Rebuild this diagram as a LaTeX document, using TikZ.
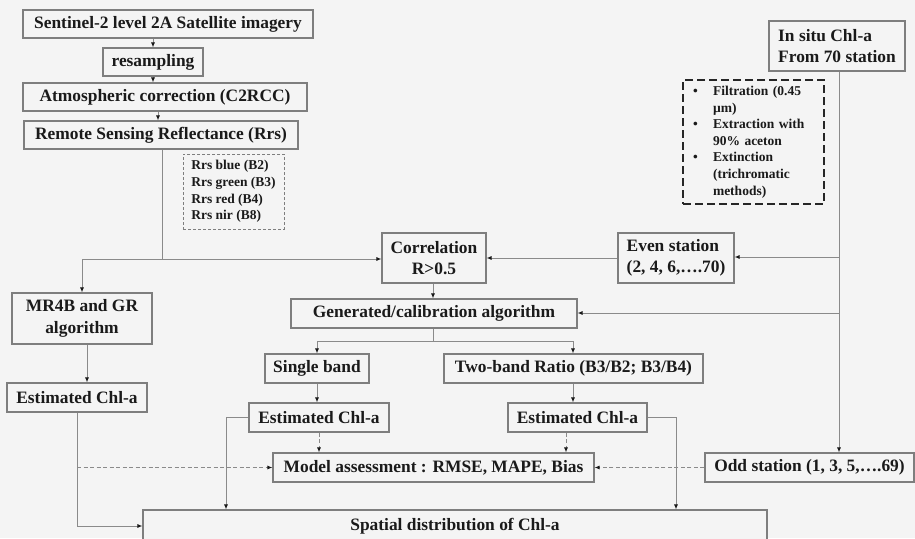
\documentclass[tikz,border=0pt]{standalone}
\usepackage{fontspec}
\setmainfont{Liberation Serif}
\usetikzlibrary{arrows.meta}
\definecolor{bg}{HTML}{F4F4F4}
\definecolor{bx}{HTML}{7E7E7E}
\definecolor{tx}{HTML}{1A1A1A}
\definecolor{ln}{HTML}{8A8A8A}
\begin{document}
\begin{tikzpicture}[x=1pt,y=-1pt,
  box/.style={draw=bx,line width=1.1pt,fill=bg,text=tx,
    font=\bfseries\fontsize{17.4}{21.5}\selectfont,inner sep=0pt,align=center},
  lbox/.style={box,align=left},
  small/.style={font=\bfseries\fontsize{13.5}{16.6}\selectfont},
  conn/.style={draw=ln,line width=0.9pt},
  arr/.style={conn,-{Latex[length=5pt,width=4pt,color=tx]}},
  darr/.style={arr,dash pattern=on 4pt off 2.5pt},
]
\useasboundingbox (0,0) rectangle (915,538);
\fill[bg] (0,0) rectangle (915,538);

% left column
\node[box,minimum width=290pt,minimum height=28pt] (sent) at (168,24) {Sentinel-2 level 2A Satellite imagery};
\node[box,minimum width=100pt,minimum height=28pt] (resamp) at (153,62) {resampling};
\node[box,minimum width=284pt,minimum height=28pt] (atm) at (165,97) {Atmospheric correction (C2RCC)};
\node[box,minimum width=274pt,minimum height=28pt] (rrs) at (161,135) {Remote Sensing Reflectance (Rrs)};
\node[lbox,small,draw=bx,line width=0.8pt,dash pattern=on 3pt off 2pt,minimum width=101pt,minimum height=75pt] (bands) at (233.5,191.5)
  {Rrs blue (B2)\\Rrs green (B3)\\Rrs red (B4)\\Rrs nir (B8)};

% right top
\node[lbox,minimum width=136pt,minimum height=50pt] (insitu) at (837,46) {In situ Chl-a\\From 70 station};
\node[box,small,draw=black!85,line width=1.8pt,dash pattern=on 8pt off 4pt,align=left,text width=121pt,inner xsep=10pt,minimum height=124pt] (bul) at (753.5,142)
  {\makebox[20pt][l]{•}Filtration (0.45\\\hspace*{20pt}µm)\\
   \makebox[20pt][l]{•}Extraction with\\\hspace*{20pt}90\% aceton\\
   \makebox[20pt][l]{•}Extinction\\\hspace*{20pt}(trichromatic\\\hspace*{20pt}methods)};

% middle
\node[box,minimum width=104pt,minimum height=50pt] (corr) at (434,258) {Correlation\\R>0.5};
\node[lbox,minimum width=116pt,minimum height=50pt] (even) at (676,258) {Even station\\(2, 4, 6,….70)};
\node[box,minimum width=140pt,minimum height=51pt] (mr4b) at (82,318.5) {MR4B and GR\\algorithm};
\node[box,minimum width=286pt,minimum height=29pt] (gen) at (434,313.5) {Generated/calibration algorithm};
\node[box,minimum width=104pt,minimum height=29pt] (single) at (317,368.5) {Single band};
\node[box,minimum width=259pt,minimum height=29pt] (two) at (573.5,368.5) {Two-band Ratio (B3/B2; B3/B4)};
\node[box,minimum width=140pt,minimum height=29pt] (estL) at (77,397.5) {Estimated Chl-a};
\node[box,minimum width=140pt,minimum height=29pt] (estM) at (319,417.5) {Estimated Chl-a};
\node[box,minimum width=139pt,minimum height=29pt] (estR) at (577.5,417.5) {Estimated Chl-a};
\node[box,minimum width=321pt,minimum height=29pt] (model) at (433.5,467.5) {Model assessment : RMSE, MAPE, Bias};
\node[box,minimum width=209pt,minimum height=29pt] (odd) at (809.5,467.5) {Odd station (1, 3, 5,….69)};
\node[box,minimum width=624pt,minimum height=32pt] (spatial) at (455,526) {Spatial distribution of Chl-a};

% junction coordinates
\coordinate (j1) at (162,259);
\coordinate (v1) at (839,257);
\coordinate (v2) at (839,313);
\coordinate (g1) at (433,341);
\coordinate (cm) at (226,0);
\coordinate (cr) at (676,0);

% connectors
\draw[arr] (resamp.north |- sent.south) -- (resamp.north);
\draw[arr] (resamp.south) -- (resamp.south |- atm.north);
\draw[arr] ([xshift=-3pt]rrs.north |- atm.south) -- ([xshift=-3pt]rrs.north);
\draw[conn] (rrs.south -| j1) -- (j1);
\draw[arr] (j1) -| (mr4b.north);
\draw[arr] (j1) -- (corr.west |- j1);
\draw[arr] (even.west) -- (corr.east);
\draw[arr] (insitu.south -| v1) -- (odd.north -| v1);
\draw[arr] (v1) -- (even.east |- v1);
\draw[arr] (v2) -- (gen.east |- v2);
\draw[arr] (corr.south -| g1) -- (gen.north -| g1);
\draw[conn] (gen.south -| g1) -- (g1);
\draw[arr] (g1) -| (single.north);
\draw[arr] (g1) -| ([xshift=-0.5pt]two.north);
\draw[arr] (single.south) -- (single.south |- estM.north);
\draw[arr] ([xshift=-0.5pt]two.south) -- ([xshift=-0.5pt]two.south |- estR.north);
\draw[arr] ([xshift=5pt]mr4b.south) -- ([xshift=5pt]mr4b.south |- estL.north);
\draw[arr] (estL.south) |- (spatial.west);
\draw[darr] (estL.south |- model.west) -- (model.west);
\draw[arr] (estM.west) -| (cm |- spatial.north);
\draw[arr] (estR.east) -| (cr |- spatial.north);
\draw[darr] (estM.south) -- (estM.south |- model.north);
\draw[darr] ([xshift=-11.5pt]estR.south) -- ([xshift=-11.5pt]estR.south |- model.north);
\draw[darr] (odd.west) -- (model.east);
\end{tikzpicture}
\end{document}
